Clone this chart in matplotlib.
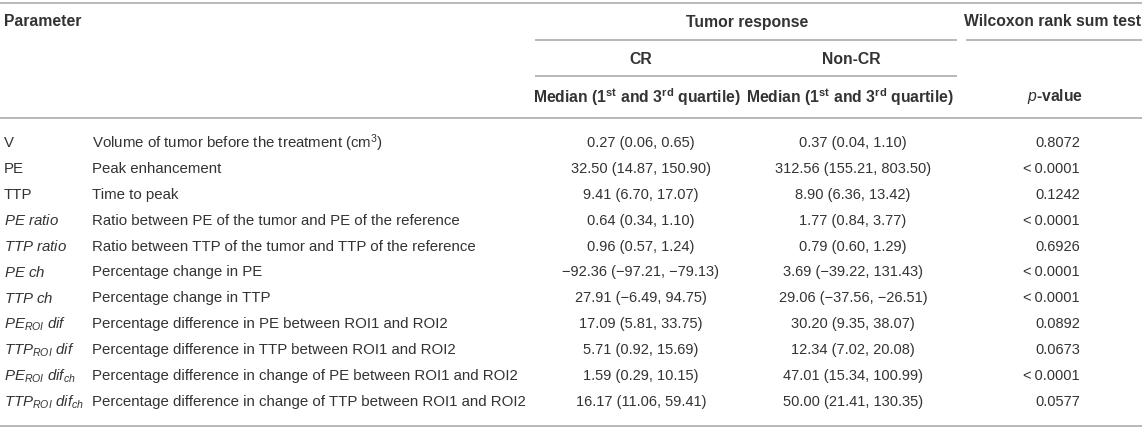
import matplotlib
matplotlib.use("Agg")
import matplotlib.pyplot as plt

plt.rcParams['font.family'] = ['Liberation Sans', 'DejaVu Sans']
plt.rcParams['mathtext.fontset'] = 'custom'
plt.rcParams['mathtext.rm'] = 'Liberation Sans'
plt.rcParams['mathtext.it'] = 'Liberation Sans:italic'
plt.rcParams['mathtext.bf'] = 'Liberation Sans:bold'

# table content
abbrevs = ['V', 'PE', 'TTP',
           r'$\mathit{PE\ ratio}$', r'$\mathit{TTP\ ratio}$',
           r'$\mathit{PE\ ch}$', r'$\mathit{TTP\ ch}$',
           r'$\mathit{PE}_{\mathit{ROI}}\ \mathit{dif}$',
           r'$\mathit{TTP}_{\mathit{ROI}}\ \mathit{dif}$',
           r'$\mathit{PE}_{\mathit{ROI}}\ \mathit{dif}_{\mathit{ch}}$',
           r'$\mathit{TTP}_{\mathit{ROI}}\ \mathit{dif}_{\mathit{ch}}$']
descriptions = ['Volume of tumor before the treatment (cm$^3$)',
                'Peak enhancement',
                'Time to peak',
                'Ratio between PE of the tumor and PE of the reference',
                'Ratio between TTP of the tumor and TTP of the reference',
                'Percentage change in PE',
                'Percentage change in TTP',
                'Percentage difference in PE between ROI1 and ROI2',
                'Percentage difference in TTP between ROI1 and ROI2',
                'Percentage difference in change of PE between ROI1 and ROI2',
                'Percentage difference in change of TTP between ROI1 and ROI2']
cr_values = ['0.27 (0.06, 0.65)', '32.50 (14.87, 150.90)', '9.41 (6.70, 17.07)',
             '0.64 (0.34, 1.10)', '0.96 (0.57, 1.24)',
             '\u221292.36 (\u221297.21, \u221279.13)', '27.91 (\u22126.49, 94.75)',
             '17.09 (5.81, 33.75)', '5.71 (0.92, 15.69)', '1.59 (0.29, 10.15)',
             '16.17 (11.06, 59.41)']
noncr_values = ['0.37 (0.04, 1.10)', '312.56 (155.21, 803.50)', '8.90 (6.36, 13.42)',
                '1.77 (0.84, 3.77)', '0.79 (0.60, 1.29)', '3.69 (\u221239.22, 131.43)',
                '29.06 (\u221237.56, \u221226.51)', '30.20 (9.35, 38.07)',
                '12.34 (7.02, 20.08)', '47.01 (15.34, 100.99)', '50.00 (21.41, 130.35)']
p_values = ['0.8072', '<\u20090.0001', '0.1242', '<\u20090.0001', '0.6926', '<\u20090.0001',
            '<\u20090.0001', '0.0892', '0.0673', '<\u20090.0001', '0.0577']

W, H = 1145, 431
fig = plt.figure(figsize=(W / 100, H / 100), dpi=100)
ax = fig.add_axes([0, 0, 1, 1])
ax.set_xlim(0, W)
ax.set_ylim(H, 0)
ax.axis('off')

txt = '#333333'
line_c = '#b8b8b8'
fs_head = 11.3
fs_text = 10.8
fs_num = 10.5

# rules
for y, x0, x1 in [(4, 0, 1142), (41, 535, 957), (41, 966, 1142), (77, 535, 957),
                  (119, 0, 1142), (427, 0, 1142)]:
    ax.plot([x0, x1], [y, y], color=line_c, lw=1.4, solid_capstyle='butt')

# header
hd = dict(fontsize=fs_head, fontweight='bold', color=txt, va='center')
ax.text(4, 22, 'Parameter', ha='left', **hd)
ax.text(747, 22, 'Tumor response', ha='center', **hd)
ax.text(1053, 22, 'Wilcoxon rank sum test', ha='center', **hd)
ax.text(641, 60, 'CR', ha='center', **hd)
ax.text(851, 60, 'Non-CR', ha='center', **hd)
med = r'Median (1$\mathbf{^{st}}$ and 3$\mathbf{^{rd}}$ quartile)'
ax.text(637, 97, med, ha='center', **hd)
ax.text(850, 97, med, ha='center', **hd)
ax.text(1055, 97, r'$\mathbf{\mathit{p}}$-value', ha='center', **hd)

# body rows
row0, step = 143, 25.9
for i in range(len(abbrevs)):
    y = row0 + i * step
    ax.text(4, y, abbrevs[i], ha='left', va='center', fontsize=fs_text, color=txt)
    ax.text(92, y, descriptions[i], ha='left', va='center', fontsize=fs_text, color=txt)
    ax.text(641, y, cr_values[i], ha='center', va='center', fontsize=fs_num, color=txt)
    ax.text(853, y, noncr_values[i], ha='center', va='center', fontsize=fs_num, color=txt)
    ax.text(1080, y, p_values[i], ha='right', va='center', fontsize=fs_num, color=txt)

fig.savefig('out.png', dpi=100)
